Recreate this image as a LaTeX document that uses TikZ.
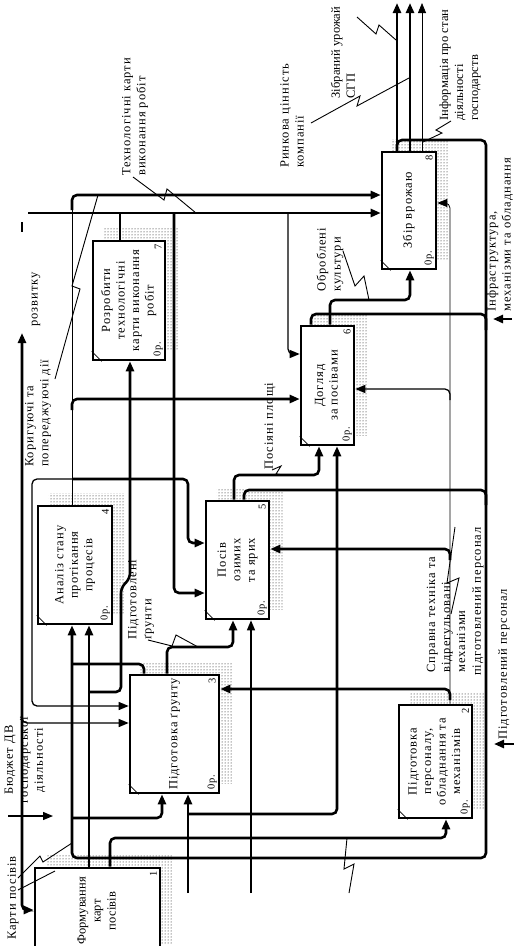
\documentclass[tikz,border=0pt]{standalone}
\usepackage{fontspec}
\setmainfont{Liberation Serif}[LetterSpace=8]
\usetikzlibrary{arrows.meta,patterns,backgrounds}
\newcommand{\rottext}[1]{\rotatebox{90}{\begin{tabular}{@{}c@{}}#1\end{tabular}}}

\begin{document}
\begin{tikzpicture}[x=1pt,y=-1pt,>={Triangle[length=10pt,width=8pt]},
  box/.style={draw,line width=2.6pt,fill=white,inner sep=0pt,font=\fontsize{12.5}{14.5}\selectfont},
  lbl/.style={rotate=90,inner sep=0pt,align=left,anchor=west,font=\fontsize{12.5}{15}\selectfont},
  tight/.style={font=\fontsize{12.5}{15}\selectfont\addfontfeature{LetterSpace=1}},
  nr/.style={rotate=90,inner sep=0pt,font=\fontsize{10.5}{10.5}\selectfont},
  ln/.style={line width=2.6pt,rounded corners=5pt},
  lnm/.style={line width=1.3pt,rounded corners=5pt},
  lnt/.style={line width=0.8pt,rounded corners=5pt},
  sq/.style={line width=0.9pt}]
\useasboundingbox (0,0) rectangle (514,946);
\clip (0,0) rectangle (514,946);

\node[box,tight,minimum width=125pt,minimum height=86pt] (b1) at (97.5,911) {\rottext{Формування\\карт\\посівів}};
\node[box,minimum width=73pt,minimum height=113pt] (b2) at (435.5,761.5) {\rottext{Підготовка\\персоналу,\\обладнання та\\механізмів}};
\node[box,minimum width=89pt,minimum height=118pt] (b3) at (174.5,734) {\rottext{Підготовка ґрунту}};
\node[box,minimum width=74pt,minimum height=118pt] (b4) at (75,565) {\rottext{Аналіз стану\\протікання\\процесів}};
\node[box,minimum width=63pt,minimum height=118pt] (b5) at (237.5,560) {\rottext{Посів\\озимих\\та ярих}};
\node[box,minimum width=53pt,minimum height=119pt] (b6) at (327.5,385.5) {\rottext{Догляд\\за посівами}};
\node[box,minimum width=72pt,minimum height=119pt] (b7) at (129,300.5) {\rottext{Розробити\\технологічні\\карти виконання\\робіт}};
\node[box,minimum width=54pt,minimum height=117pt] (b8) at (409,210.5) {\rottext{Збір врожаю}};

\begin{scope}[on background layer]
\foreach \n in {1,...,8}
  \fill[pattern=dots] ([shift={(12,-11)}]b\n.south west) rectangle ([shift={(12,-11)}]b\n.north east);
\end{scope}
\foreach \n in {1,...,8}
  \node[nr] (n\n) at ([shift={(-8,7)}]b\n.north east) {\n};
\foreach \n in {2,...,8}{
  \node[nr] (c\n) at ([shift={(-8,-12)}]b\n.south east) {0р.};
  \draw[lnt] ([shift={(0,-10)}]b\n.south west) -- ([shift={(10,0)}]b\n.south west);
}

\coordinate (harvest) at (397,3);
\coordinate (value) at (410,3);
\coordinate (info) at (422,3);
\coordinate (fb1) at (486,140);
\coordinate (fb2) at (486,858);
\coordinate (seed1) at (188,893);
\coordinate (seed2) at (251,893);
\coordinate (budget) at (8,816);
\coordinate (infra) at (512,319);
\coordinate (staff) at (514,744);

\draw[ln,->] (b8.north -| harvest) -- (harvest);
\draw[ln,->] (b8.north -| value) -- (value);
\draw[lnt,->] (b8.north -| info) -- (info);
\draw[ln,->] (b8.north -| harvest) |- (fb1) -- (fb2) -| (b4.south -| 72,0);
\draw[ln] (b6.north -| 311,0) |- (486,314) -- (486,330);
\draw[ln] (b5.north -| 244,0) |- (486,490) -- (486,505);
\draw[ln,->] (b5.north -| 234,0) |- (319,475) -- (b6.south -| 319,0);
\draw[ln,->] (b6.north -| 330,0) |- (410,300) -- (b8.south -| 410,0);
\draw[ln,->] (b3.north -| 167,0) |- (233,647) -- (b5.south -| 233,0);
\draw[ln] (b3.north -| 144,0) |- (72,664);
\draw[ln,->] (b1.north -| 89,0) -- (b4.south -| 89,0);
\draw[ln,->] (b1.north -| 110,0) |- (446,838) -- (b2.south -| 446,0);
\draw[ln,->] (89,692) -- (121,692) -- (121,588) -- (130,578) -- (b7.south -| 130,0);
\draw[ln] (b7.north -| 120,0) -- (120,213);
\draw[ln,->] (28,213) -- (b8.west |- 0,213);
\draw[ln,->] (174,213) |- (b5.west |- 0,593);
\draw[lnm,->] (288,213) |- (b6.west |- 0,354);
\draw[lnt] (b4.north -| 72,0) -- (72,205);
\draw[ln,->] (72,210) |- (b8.west |- 0,195);
\draw[ln,->] (72,410) |- (b6.west |- 0,399);
\draw[ln,->] (72,479) -| (188,530) |- (b5.west |- 0,543);
\draw[lnm,->] (72,479) -| (32,690) |- (b3.west |- 0,706);
\draw[ln,<->] (22,333) |- (b1.west |- 0,910);
\draw[lnm,->] (22,715) |- (b3.west |- 0,723);
\draw[ln] (22,222) -- (22,232);
\draw[ln,->] (seed1) -- (b3.south -| seed1);
\draw[ln,->] (188,814) -| (b6.south -| 337,0);
\draw[lnm,->] (seed2) -- (b5.south -| seed2);
\draw[ln,->] (72,818) -| (b3.south -| 162,0);
\draw[lnt,->] (b2.north -| 450,0) |- (b8.east |- 0,203);
\draw[lnm,->] (450,400) |- (b6.east |- 0,389);
\draw[ln,->] (450,560) |- (b5.east |- 0,549);
\draw[ln,->] (450,700) |- (b3.east |- 0,689);
\draw[lnm,->] (budget) -- (53,816);
\draw[ln,->] (infra) -- (493,319);
\draw[ln,->] (staff) -- (494,744);

\node[lbl,tight] (lharvest) at (343,99) {Зібраний урожай\\СГП};
\node[lbl] (lvalue) at (292,168) {Ринкова цінність\\компанії};
\node[lbl,tight] (linfo) at (460,121) {Інформація про стан\\діяльності\\господарств};
\node[lbl] (lcards) at (135,176) {Технологічні карти\\виконання робіт};
\node[lbl] (lcorr) at (38,467) {Коригуючі та\\попереджуючі дії};
\node[lbl] (ldev) at (36,327) {розвитку};
\node[lbl] (lcrops) at (330,292) {Оброблені\\культури};
\node[lbl] (lsown) at (270,470) {Посіяні площі};
\node[lbl] (lsoil) at (141,640) {Підготовлені\\ґрунти};
\node[lbl] (ltech) at (446,673) {Справна техніка та\\відрегульовані\\механізми};
\node[lbl] (lstaff) at (478,676) {підготовлений персонал};
\node[lbl] (linfra) at (500,312) {Інфраструктура,\\механізми та обладнання};
\node[lbl] (lstaff2) at (504,740) {Підготовлений персонал};
\node[lbl,anchor=center,align=center] (lbudget) at (25,760) {Бюджет ДВ\\господарської\\діяльності};
\node[lbl,anchor=center] (lmaps) at (13,898) {Карти посівів};

\draw[sq] (357,17) -- (376,34) -- (379,25) -- (396,40);
\draw[sq] (311,123) -- (360,96) -- (357,106) -- (409,78);
\draw[sq] (451,121) -- (436,130) -- (442,133) -- (423,142);
\draw[sq] (133,177) -- (164,200) -- (167,189) -- (196,213);
\draw[sq] (55,379) -- (80,289) -- (72,286) -- (98,195);
\draw[sq] (343,251) -- (355,286) -- (364,276) -- (369,300);
\draw[sq] (272,470) -- (281,466) -- (276,474) -- (284,475);
\draw[sq] (148,640) -- (172,646) -- (176,635) -- (198,647);
\draw[sq] (455,527) -- (447,583) -- (459,578) -- (451,614);
\draw[sq] (349,893) -- (354,864) -- (344,869) -- (347,838);
\draw[sq] (18,878) -- (40,856) -- (43,862) -- (72,843);
\draw[sq] (18,890) -- (55,871);
\end{tikzpicture}
\end{document}
